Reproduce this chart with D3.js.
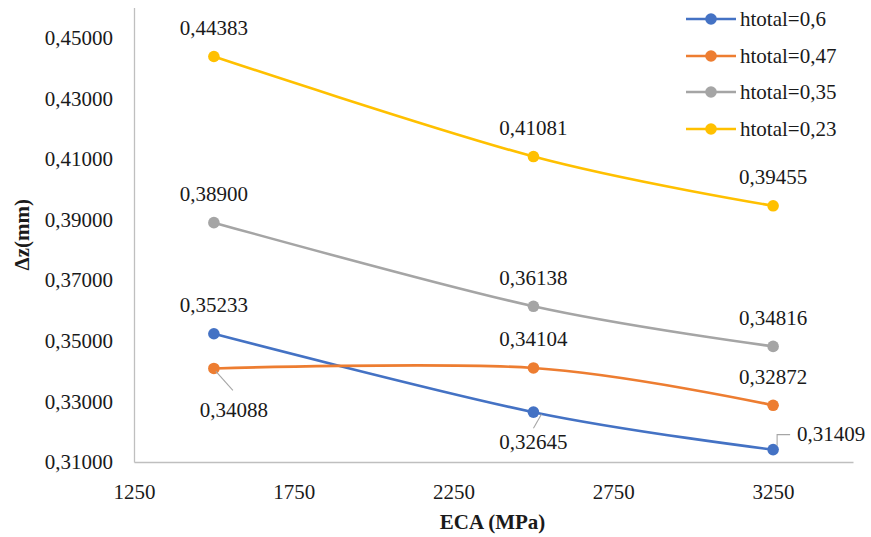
<!DOCTYPE html>
<html><head><meta charset="utf-8"><script src="https://cdn.jsdelivr.net/npm/d3@7"></script></head>
<body style="margin:0">
<svg id="fig" width="871" height="537"></svg>
<script>
// ECA values (MPa) on the x axis
const eca = [1500, 2500, 3250];

// Δz (mm) for each total height
const seriesNames = ["htotal=0,6", "htotal=0,47", "htotal=0,35", "htotal=0,23"];
const h060 = [0.35233, 0.32645, 0.31409];
const h047 = [0.34088, 0.34104, 0.32872];
const h035 = [0.38900, 0.36138, 0.34816];
const h023 = [0.44383, 0.41081, 0.39455];
const seriesValues = [h060, h047, h035, h023];

const xTicks = [1250, 1750, 2250, 2750, 3250];
const yTicks = [0.31, 0.33, 0.35, 0.37, 0.39, 0.41, 0.43, 0.45];

const colors = ["#4472C4", "#ED7D31", "#A5A5A5", "#FFC000"];

const FACE = "Liberation Serif";
const FS_BASE = 24;          // size the glyphs are set at
const TEXT_SCALE = 21 / 24;  // shrink factor applied to every label
const INK = "#1a1a1a";

// apply the serif face to a text selection
function applyFace(sel, bold) {
  return sel
    .style("font-family", FACE)
    .style("font-size", FS_BASE + "px")
    .style("font-weight", bold ? "bold" : "normal")
    .attr("fill", INK);
}

const svg = d3.select("#fig");
const plotLeft = 134, plotRight = 853, plotTop = 7.5, plotBottom = 462;

const x = d3.scaleLinear().domain([1250, 3500]).range([plotLeft, plotRight]);
const y = d3.scaleLinear().domain([0.31, 0.46]).range([plotBottom, plotTop]);

const loc = d3.formatLocale({ decimal: ",", thousands: "", grouping: [3], currency: ["", ""] });
const fmt = loc.format(".5f");

// Axes
const axisColor = "#BFBFBF";
const xAxis = d3.axisBottom(x).tickValues(xTicks).tickSize(0).tickPadding(22).tickFormat(d3.format("d"));
const gx = svg.append("g").attr("transform", `translate(0,${plotBottom})`).call(xAxis);
gx.attr("font-family", null).attr("font-size", null);
gx.select(".domain").attr("stroke", axisColor).attr("stroke-width", 1.3);
applyFace(gx.selectAll("text"));

const yAxis = d3.axisLeft(y).tickValues(yTicks).tickSize(0).tickPadding(21).tickFormat(fmt);
const gy = svg.append("g").attr("transform", `translate(${plotLeft},0)`).call(yAxis);
gy.attr("font-family", null).attr("font-size", null);
gy.select(".domain").attr("stroke", axisColor).attr("stroke-width", 1.3);
applyFace(gy.selectAll("text"));

// Axis titles
applyFace(svg.append("text")
  .attr("x", (plotLeft + plotRight) / 2 - 1).attr("y", 529)
  .attr("text-anchor", "middle"), true)
  .text("ECA (MPa)");
applyFace(svg.append("text")
  .attr("transform", `translate(29,${(plotTop + plotBottom) / 2}) rotate(-90)`)
  .attr("text-anchor", "middle"), true)
  .text("Δz(mm)");

// Smoothed lines with markers
const line = d3.line()
  .x((d, i) => x(eca[i]))
  .y(d => y(d))
  .curve(d3.curveCatmullRom.alpha(0));

seriesValues.forEach((vals, s) => {
  svg.append("path")
    .datum(vals)
    .attr("d", line)
    .attr("fill", "none")
    .attr("stroke", colors[s])
    .attr("stroke-width", 2.6)
    .attr("stroke-linecap", "round");
});

seriesValues.forEach((vals, s) => {
  svg.selectAll(null).data(vals).enter().append("circle")
    .attr("cx", (d, i) => x(eca[i]))
    .attr("cy", d => y(d))
    .attr("r", 5.8)
    .attr("fill", colors[s]);
});

// Data label placement: dx/dy relative to the marker, plus an optional leader line
const place = {
  "0-0": { dx: 0, dy: -29 },
  "0-1": { dx: 0, dy: 29, leader: [[8, 2], [0, 16]] },
  "0-2": { dx: 24, dy: -16, anchor: "start", leader: [[4, -4], [4, -15], [17, -15]] },
  "1-0": { dx: 20, dy: 41, leader: [[2, 3], [19, 22]] },
  "1-1": { dx: 0, dy: -29 },
  "1-2": { dx: 0, dy: -29 },
  "2-0": { dx: 0, dy: -29 },
  "2-1": { dx: 0, dy: -29 },
  "2-2": { dx: 0, dy: -29 },
  "3-0": { dx: 0, dy: -29 },
  "3-1": { dx: 0, dy: -29 },
  "3-2": { dx: 0, dy: -29 }
};

seriesValues.forEach((vals, s) => {
  vals.forEach((v, i) => {
    const px = x(eca[i]), py = y(v);
    const p = place[`${s}-${i}`];
    if (p.leader) {
      svg.append("path")
        .attr("d", d3.line()(p.leader.map(([a, b]) => [px + a, py + b])))
        .attr("fill", "none").attr("stroke", "#A6A6A6").attr("stroke-width", 1.1);
    }
    applyFace(svg.append("text")
      .attr("x", px + p.dx).attr("y", py + p.dy)
      .attr("dy", "0.35em")
      .attr("text-anchor", p.anchor || "middle"))
      .text(fmt(v));
  });
});

// Legend
const legend = svg.append("g");
const legendY = [19, 56, 92, 129];
seriesNames.forEach((name, s) => {
  const g = legend.append("g").attr("transform", `translate(0,${legendY[s]})`);
  g.append("line").attr("x1", 686).attr("x2", 736).attr("y1", 0).attr("y2", 0)
    .attr("stroke", colors[s]).attr("stroke-width", 2.6);
  g.append("circle").attr("cx", 711).attr("cy", 0).attr("r", 5.8).attr("fill", colors[s]);
  applyFace(g.append("text").attr("x", 740).attr("y", 0).attr("dy", "0.35em")).text(name);
});

// Shrink every label about its own anchor point
svg.selectAll("text").each(function () {
  const t = d3.select(this);
  const tx = +t.attr("x") || 0;
  const ty = +t.attr("y") || 0;
  const prev = t.attr("transform") || "";
  t.attr("x", 0).attr("y", 0)
   .attr("transform", `${prev} translate(${tx},${ty}) scale(${TEXT_SCALE})`.trim());
});
</script>
</body>
</html>
